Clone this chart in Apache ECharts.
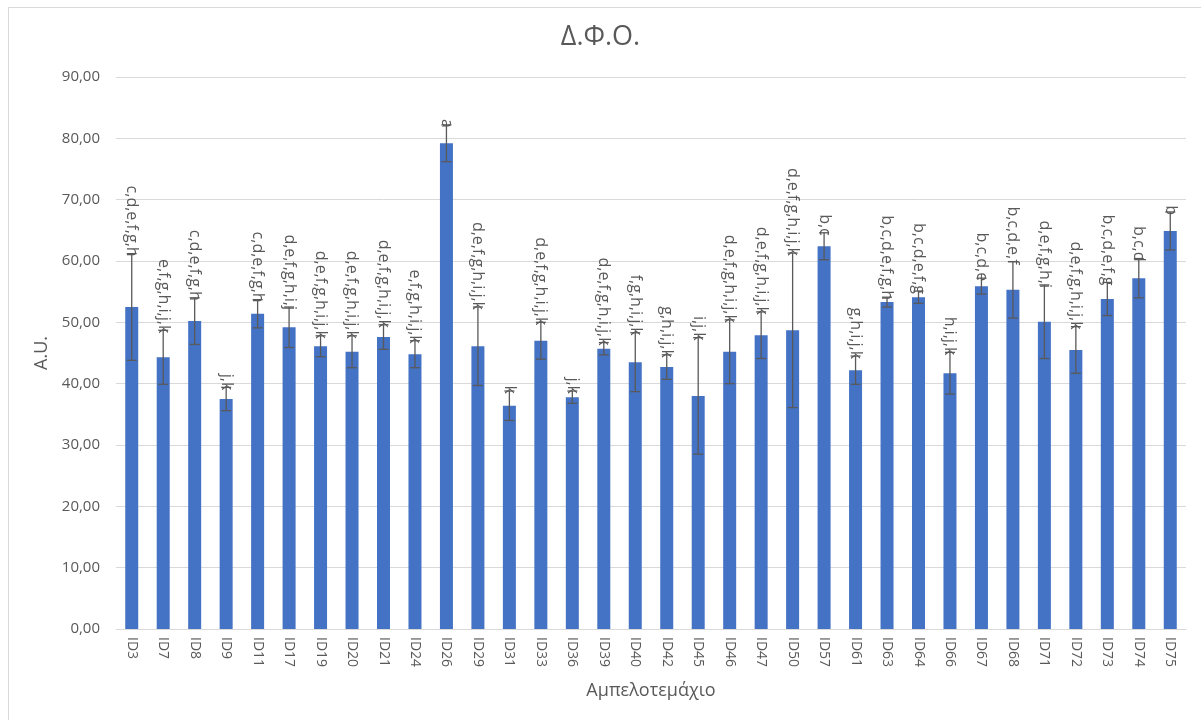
<!DOCTYPE html>
<html>
<head>
<meta charset="utf-8">
<style>
  html, body { margin: 0; padding: 0; background: #ffffff; }
  #frame { position: absolute; left: 8px; top: 7px; width: 1200px; height: 720px; border-left: 1px solid #d9d9d9; border-top: 1px solid #d9d9d9; box-sizing: border-box; }
  #chart { width: 1201px; height: 720px; }
</style>
<script src="https://cdn.jsdelivr.net/npm/echarts@6/dist/echarts.min.js"></script>
</head>
<body>
<div id="frame"></div>
<div id="chart"></div>
<script>
// Plot identifiers
const categories = ['ID3','ID7','ID8','ID9','ID11','ID17','ID19','ID20','ID21','ID24','ID26','ID29','ID31','ID33','ID36','ID39','ID40','ID42','ID45','ID46','ID47','ID50','ID57','ID61','ID63','ID64','ID66','ID67','ID68','ID71','ID72','ID73','ID74','ID75'];

// Mean values (A.U.)
const means = [52.5,44.3,50.2,37.5,51.4,49.2,46.1,45.2,47.6,44.8,79.2,46.1,36.4,47.0,37.8,45.7,43.5,42.7,38.0,45.2,47.9,48.7,62.4,42.2,53.3,54.1,41.7,55.9,55.3,50.1,45.5,53.8,57.2,64.9];

// Standard deviations
const errors = [8.7,4.4,3.8,1.9,2.3,3.3,1.7,2.6,2.0,2.2,3.0,6.4,2.4,3.0,1.0,1.0,4.8,2.0,9.5,5.2,3.8,12.6,2.2,2.3,0.8,1.0,3.4,1.3,4.6,6.0,3.8,2.7,3.2,3.1];

// Significance groups
const groups = ['c,d,e,f,g,h','e,f,g,h,i,j,k','c,d,e,f,g,h','j,k','c,d,e,f,g,h','d,e,f,g,h,i,j','d,e,f,g,h,i,j,k','d,e,f,g,h,i,j,k','d,e,f,g,h,i,j,k','e,f,g,h,i,j,k','a','d,e,f,g,h,i,j,k','k','d,e,f,g,h,i,j,k','j,k','d,e,f,g,h,i,j,k','f,g,h,i,j,k','g,h,i,j,k','i,j,k','d,e,f,g,h,i,j,k','d,e,f,g,h,i,j,k','d,e,f,g,h,i,j,k','b,c','g,h,i,j,k','b,c,d,e,f,g,h','b,c,d,e,f,g','h,i,j,k','b,c,d,e','b,c,d,e,f','d,e,f,g,h,i','d,e,f,g,h,i,j,k','b,c,d,e,f,g','b,c,d','b'];

const FONT = 'Open Sans';
const TXT = '#595959';

const errData = means.map((m, i) => [i, m - errors[i], m + errors[i], groups[i]]);

const chart = echarts.init(document.getElementById('chart'));
chart.setOption({
  animation: false,
  textStyle: { fontFamily: FONT },
  title: {
    text: 'Δ.Φ.Ο.',
    left: 'center',
    top: 19,
    textStyle: { fontFamily: FONT, fontSize: 27, fontWeight: 'normal', color: TXT }
  },
  grid: { left: 116, right: 15, top: 77, bottom: 91 },
  xAxis: {
    type: 'category',
    data: categories,
    name: 'Αμπελοτεμάχιο',
    nameLocation: 'middle',
    nameGap: 53,
    nameTextStyle: { fontFamily: FONT, fontSize: 18, color: TXT },
    axisLine: { lineStyle: { color: '#d9d9d9' } },
    axisTick: { show: false },
    axisLabel: { rotate: -90, margin: 8, fontFamily: FONT, fontSize: 14, color: TXT, interval: 0 }
  },
  yAxis: {
    type: 'value',
    min: 0, max: 90, interval: 10,
    name: 'A.U.',
    nameLocation: 'middle',
    nameGap: 60,
    nameTextStyle: { fontFamily: FONT, fontSize: 18, color: TXT },
    axisLine: { show: false },
    axisTick: { show: false },
    axisLabel: { margin: 16, fontFamily: FONT, fontSize: 15, color: TXT, formatter: v => v.toFixed(2).replace('.', ',') },
    splitLine: { lineStyle: { color: '#d9d9d9', width: 1 } }
  },
  series: [
    {
      type: 'bar',
      data: means,
      barWidth: 13,
      itemStyle: { color: '#4472C4' }
    },
    {
      type: 'custom',
      data: errData,
      z: 5,
      renderItem: function (params, api) {
        const x = api.value(0);
        const lo = api.coord([x, api.value(1)]);
        const hi = api.coord([x, api.value(2)]);
        const cap = 5;
        const st = { stroke: '#595959', lineWidth: 1.3 };
        return {
          type: 'group',
          children: [
            { type: 'line', shape: { x1: hi[0], y1: hi[1], x2: lo[0], y2: lo[1] }, style: st },
            { type: 'line', shape: { x1: hi[0] - cap, y1: hi[1], x2: hi[0] + cap, y2: hi[1] }, style: st },
            { type: 'line', shape: { x1: lo[0] - cap, y1: lo[1], x2: lo[0] + cap, y2: lo[1] }, style: st },
            {
              type: 'text',
              x: hi[0],
              y: hi[1] + 3,
              rotation: -Math.PI / 2,
              style: {
                text: api.value(3),
                fontFamily: FONT,
                fontSize: 16,
                fill: TXT,
                align: 'right',
                verticalAlign: 'middle'
              }
            }
          ]
        };
      }
    }
  ]
});
</script>
</body>
</html>
